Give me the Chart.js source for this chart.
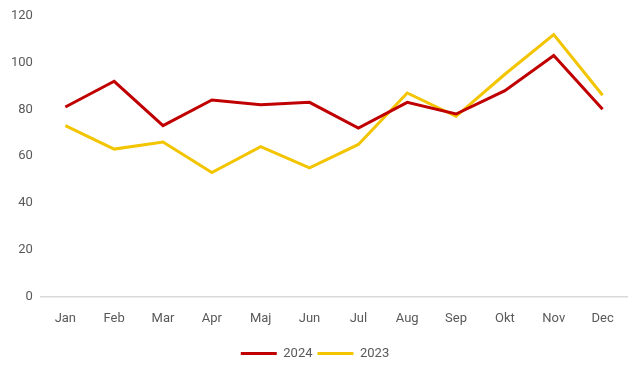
<!DOCTYPE html>
<html>
<head>
<meta charset="utf-8">
<script src="https://cdn.jsdelivr.net/npm/chart.js@4"></script>
<style>
  html, body { margin: 0; padding: 0; background: #fff; }
  #wrap { width: 640px; height: 367px; }
</style>
</head>
<body>
<div id="wrap"><canvas id="grafico"></canvas></div>
<script>
const months = ["Jan", "Feb", "Mar", "Apr", "Maj", "Jun", "Jul", "Aug", "Sep", "Okt", "Nov", "Dec"];
const values2024 = [81, 92, 73, 84, 82, 83, 72, 83, 78, 88, 103, 80];
const values2023 = [73, 63, 66, 53, 64, 55, 65, 87, 77, 95, 112, 86];
const yTicks = [0, 20, 40, 60, 80, 100, 120];

const textColor = '#595959';
const fontFamily = 'Roboto';

new Chart(document.getElementById('grafico').getContext('2d'), {
    type: 'line',
    data: {
        labels: months,
        datasets: [
            {
                label: '2024',
                data: values2024,
                borderColor: '#C00000',
                backgroundColor: '#C00000',
                borderWidth: 3,
                pointRadius: 0,
                tension: 0
            },
            {
                label: '2023',
                data: values2023,
                borderColor: '#F2C500',
                backgroundColor: '#F2C500',
                borderWidth: 3,
                pointRadius: 0,
                tension: 0
            }
        ]
    },
    options: {
        responsive: true,
        maintainAspectRatio: false,
        animation: false,
        layout: {
            padding: { top: 0, right: 13, left: 3, bottom: -3 }
        },
        scales: {
            x: {
                offset: true,
                grid: { display: false, drawTicks: false },
                border: { display: true, color: '#D9D9D9', width: 1.5 },
                ticks: {
                    color: textColor,
                    padding: 15,
                    font: { family: fontFamily, size: 13 }
                }
            },
            y: {
                min: 0,
                max: 120,
                afterBuildTicks: function (axis) {
                    axis.ticks = yTicks.map(v => ({ value: v }));
                },
                grid: { display: false, drawTicks: false },
                border: { display: false },
                ticks: {
                    color: textColor,
                    padding: 8,
                    font: { family: fontFamily, size: 13 }
                }
            }
        },
        plugins: {
            legend: {
                position: 'bottom',
                labels: {
                    color: textColor,
                    boxWidth: 36,
                    boxHeight: 3,
                    padding: 5,
                    font: { family: fontFamily, size: 13 },
                    generateLabels: function (chart) {
                        const items = Chart.defaults.plugins.legend.labels.generateLabels(chart);
                        items.forEach(it => { it.lineWidth = 0; });
                        return items;
                    }
                }
            },
            tooltip: { enabled: false }
        }
    }
});
</script>
</body>
</html>
